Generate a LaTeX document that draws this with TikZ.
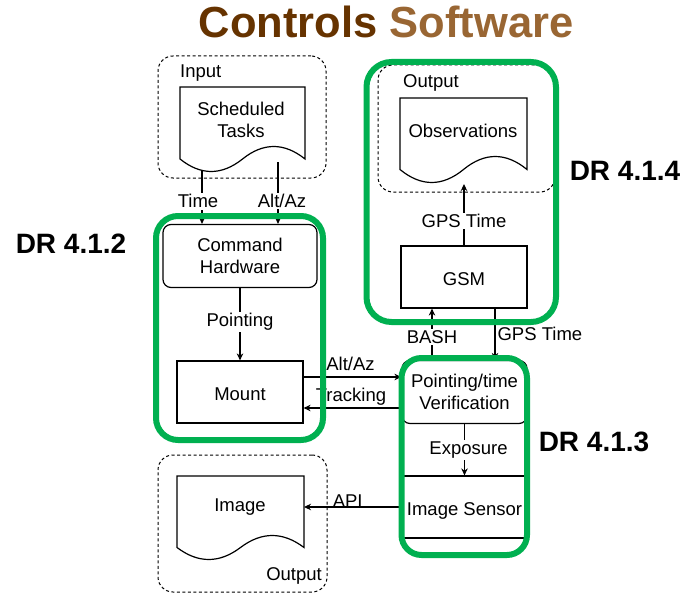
\documentclass[tikz,border=0pt]{standalone}
\usepackage{fontspec}
\setmainfont{Liberation Sans}
\usetikzlibrary{arrows.meta,calc}
\definecolor{drgreen}{RGB}{0,176,80}
\definecolor{brownA}{RGB}{102,51,0}
\definecolor{brownB}{RGB}{153,102,51}
% document shape: x, top, width, baseline y, wave amplitude
\newcommand{\docpath}[5]{%
  \draw[ln] (#1,#2) -- ({#1+#3},#2) -- ({#1+#3},#4)
    .. controls ({#1+5*#3/6},{#4-4*#5/3}) and ({#1+2*#3/3},{#4-4*#5/3}) .. ({#1+#3/2},#4)
    .. controls ({#1+#3/3},{#4+4*#5/3}) and ({#1+#3/6},{#4+4*#5/3}) .. (#1,#4) -- cycle;}
\begin{document}
\begin{tikzpicture}[x=1pt,y=-1pt,
  ln/.style={line width=1.2pt},
  txt/.style={font=\fontsize{18.5}{22}\selectfont, align=center, inner sep=1pt},
  box/.style={txt, draw, line width=1.2pt, minimum width=126pt, minimum height=62pt},
  onebox/.style={box, text height=17pt, text depth=0pt},
  rbox/.style={box, rounded corners=8pt},
  arr/.style={line width=1.2pt, -{Stealth[length=7pt,width=6.5pt]}},
  lbl/.style={txt, fill=white, inner sep=1.5pt},
  dashbox/.style={draw, line width=1pt, dash pattern=on 3pt off 2.5pt, rounded corners=15pt},
  greenbox/.style={draw=drgreen, line width=6pt, rounded corners=22pt},
  drlbl/.style={font=\bfseries\fontsize{28}{32}\selectfont, inner sep=0pt}]
\useasboundingbox (0,0) rectangle (697,602);

% title
\node[font=\bfseries\fontsize{43.5}{48}\selectfont, inner sep=0pt] (title) at (386,22)
  {\textcolor{brownA}{Controls} \textcolor{brownB}{Software}};

% dashed containers
\node[dashbox, minimum width=168pt, minimum height=122pt] (inbox) at (242,117) {};
\node[dashbox, minimum width=177pt, minimum height=127pt] (outtop) at (466.5,128.5) {};
\node[dashbox, minimum width=169pt, minimum height=137pt] (outbot) at (242.5,523.5) {};
\node[txt, anchor=west] (inlbl) at (179,73.5) {Input};
\node[txt, anchor=west] (outlbl1) at (402,82.5) {Output};
\node[txt, anchor=east] (outlbl2) at (323,575.5) {Output};

% documents
\docpath{180}{87}{125}{159}{12.5}
\node[txt] (st) at (241,119.5) {Scheduled\\Tasks};
\docpath{400}{98}{127}{169.5}{13}
\node[txt] (obs) at (463,130.5) {Observations};
\docpath{177}{476}{127}{547.5}{12}
\node[txt] (img) at (240,507.5) {Image};

% boxes
\node[rbox, minimum width=154pt, minimum height=63pt] (ch) at (240,256) {Command\\Hardware};
\node[onebox] (mount) at (240,392) {Mount};
\node[onebox] (gsm) at (464,277) {GSM};
\node[rbox, minimum width=125pt, minimum height=63pt] (pv) at (464.5,392) {Pointing/time\\Verification};
\node[onebox, minimum width=125pt] (is) at (464.5,507) {Image Sensor};

% connectors
\coordinate (timeS) at (202,170);
\coordinate (altS) at (278,162);
\draw[arr] (timeS) -- (timeS |- ch.north) node[lbl, pos=0.58, xshift=-4pt] {Time};
\draw[arr] (altS) -- (altS |- ch.north) node[lbl, pos=0.63, xshift=4pt] {Alt/Az};
\draw[arr] (ch.south) -- (mount.north) node[lbl, pos=0.47] {Pointing};
\draw[arr] ([yshift=15pt]mount.east) -- ([yshift=15pt]pv.west)
  node[txt, midway, yshift=13pt, xshift=-2pt] {Alt/Az};
\draw[arr] ([yshift=-16pt]pv.west) -- ([yshift=-16pt]mount.east)
  node[txt, midway, yshift=11pt, xshift=-1.5pt] {Tracking};
\draw[arr] (pv.south) -- (is.north) node[lbl, pos=0.5, xshift=4pt] {Exposure};
\coordinate (imgR) at (304,507);
\draw[arr] (is.west) -- (imgR) node[txt, midway, yshift=6pt, xshift=-5pt] {API};
\coordinate (obsB) at (464,184);
\draw[arr] (gsm.north) -- (obsB) node[lbl, pos=0.4] {GPS Time};
\draw[arr] ([xshift=-32.5pt]pv.north) -- ([xshift=-32pt]gsm.south) node[lbl, pos=0.45] {BASH};
\draw[arr] ([xshift=31pt]gsm.south) -- ([xshift=30.5pt]pv.north)
  node[txt, pos=0.5, anchor=west, xshift=1pt] {GPS Time};

% green requirement boxes
\node[greenbox, minimum width=167pt, minimum height=224pt] (dr2) at (239.5,328) {};
\node[greenbox, minimum width=189.5pt, minimum height=260pt, rounded corners=25pt] (dr4) at (461.25,192) {};
\node[greenbox, minimum width=125.5pt, minimum height=197pt, rounded corners=20pt] (dr3) at (464.25,456.5) {};

\node[drlbl] (dr2l) at (71,244) {DR 4.1.2};
\node[drlbl] (dr4l) at (625,170.5) {DR 4.1.4};
\node[drlbl] (dr3l) at (594,442) {DR 4.1.3};
\end{tikzpicture}
\end{document}
